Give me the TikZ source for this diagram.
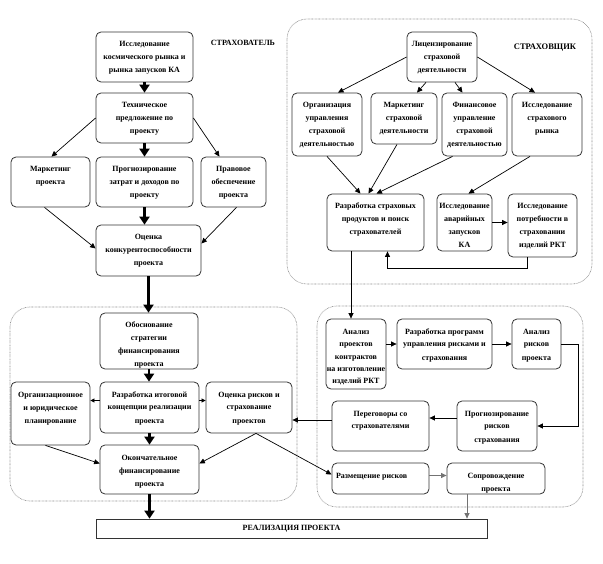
\documentclass[tikz,border=0pt]{standalone}
\usepackage{fontspec}
\setmainfont{Liberation Serif}
\usetikzlibrary{arrows.meta,calc}
\tikzset{
  box/.style={draw=black!80, line width=0.8pt, rounded corners=5pt, fill=white, inner sep=0pt,
    font=\bfseries\fontsize{8}{13}\selectfont},
  realbox/.style={draw=black!80, line width=0.8pt, fill=white, inner sep=0pt,
    font=\bfseries\fontsize{8}{10}\selectfont},
  grp/.style={draw=black!45, line width=0.6pt, dash pattern=on 0.7pt off 0.7pt, rounded corners=20pt},
  smallarr/.style={draw=black, line width=0.7pt, -{Triangle[width=5pt,length=5.5pt]}},
  tinyarr/.style={draw=black, line width=0.7pt, -{Triangle[width=4pt,length=4pt]}},
  bigarr/.style={draw=black, line width=2.2pt, -{Triangle[width=10pt,length=8pt]}},
  greyarr/.style={draw=black!55, line width=0.9pt, -{Triangle[width=5pt,length=5.5pt]}},
  lbl/.style={inner sep=0pt, font=\bfseries\fontsize{8}{10}\selectfont},
}
\newcommand{\bx}[7][\centering]{%
  \node[box] (#2) at ({(#3+#5)/2},{(#4+#6)/2})
   {\parbox[c][\dimexpr #6pt-#4pt\relax][t]{\dimexpr #5pt-#3pt\relax}{#1\rule{0pt}{15pt}#7\par}};}
\begin{document}
\begin{tikzpicture}[x=1pt,y=-1pt]
\useasboundingbox (0,0) rectangle (603,564);
% groups
\draw[grp] (287,19) rectangle (592,284);
\draw[grp] (10,307) rectangle (297,501);
\draw[grp] (317,306) rectangle (583,507);
% labels
\node[lbl] (lstr1) at (243,43) {СТРАХОВАТЕЛЬ};
\node[lbl, font=\bfseries\fontsize{8.5}{10}\selectfont] (lstr2) at (545,48) {СТРАХОВЩИК};
% left boxes
\bx{B1}{96}{32}{193}{82}{Исследование\\космического рынка и\\рынка запусков КА}
\bx{B2}{96}{93}{193}{143}{Техническое\\предложение по\\проекту}
\bx{B3}{11}{157}{90}{207}{Маркетинг\\проекта}
\bx{B4}{96}{157}{193}{207}{Прогнозирование\\затрат и доходов по\\проекту}
\bx{B5}{201}{157}{266}{207}{Правовое\\обеспечение\\проекта}
\bx{B6}{96}{225}{201}{276}{Оценка\\конкурентоспособности\\проекта}
\bx{B7}{100}{313}{198}{369}{Обоснование\\стратегии\\финансирования\\проекта}
\bx{B8}{100}{382}{199}{433}{Разработка итоговой\\концепции реализации\\проекта}
\bx{B9}{11}{382}{90}{445}{Организационное\\и юридическое\\планирование}
\bx{B10}{206}{382}{292}{433}{Оценка рисков и\\страхование\\проектов}
\bx{B11}{100}{445}{199}{494}{Окончательное\\финансирование\\проекта}
% right top boxes
\bx{R1}{407}{32}{477}{82}{Лицензирование\\страховой\\деятельности}
\bx{R2}{292}{93}{362}{156}{Организация\\управления\\страховой\\деятельностью}
\bx{R3}{371}{93}{437}{144}{Маркетинг\\страховой\\деятельности}
\bx{R4}{442}{93}{507}{156}{Финансовое\\управление\\страховой\\деятельностью}
\bx{R5}{512}{93}{582}{156}{Исследование\\страхового\\рынка}
\bx{R6}{327}{194}{424}{251}{Разработка страховых\\продуктов и поиск\\страхователей}
\bx{R7}{437}{194}{492}{251}{Исследование\\аварийных\\запусков\\КА}
\bx{R8}{508}{194}{577}{257}{Исследование\\потребности в\\страховании\\изделий РКТ}
% right bottom boxes
\bx[\centering\fontsize{8}{12.5}\selectfont]{A1}{326}{319}{386}{389}{Анализ\\проектов\\контрактов\\\makebox[\linewidth]{на изготовление}\\изделий РКТ}
\bx{A2}{397}{319}{492}{369}{Разработка программ\\управления рисками и\\страхования}
\bx{A3}{512}{319}{561}{369}{Анализ\\рисков\\проекта}
\bx{A4}{457}{401}{537}{451}{Прогнозирование\\рисков\\страхования}
\bx{A5}{332}{401}{429}{451}{Переговоры со\\страхователями}
\bx[\raggedright\leavevmode\hspace*{4pt}]{R9}{332}{463}{429}{494}{Размещение рисков}
\bx{R10}{447}{463}{545}{494}{Сопровождение\\проекта}
\node[realbox, minimum width=391pt, minimum height=19pt] (REAL) at (291.5,528.5) {РЕАЛИЗАЦИЯ ПРОЕКТА};
% left arrows
\draw[bigarr] (B1.south) -- (B2.north);
\draw[smallarr] (B2.west) -- ($(B3.north)+(1,0)$);
\draw[bigarr] (B2.south) -- (B4.north);
\draw[smallarr] (B2.east) -- ($(B5.north)+(-14,0)$);
\draw[smallarr] ($(B3.south)+(-6,0)$) -- ($(B6.west)+(0,-2)$);
\draw[bigarr] (B4.south) -- (B4.south |- B6.north);
\draw[smallarr] ($(B5.south)+(3,0)$) -- ($(B6.east)+(0,-7)$);
\draw[bigarr] (B6.south) -- (B6.south |- B7.north);
\draw[bigarr] (B7.south) -- (B7.south |- B8.north);
\coordinate (b8l) at ($(B8.west)+(0,-7)$);
\coordinate (b8r) at ($(B8.east)+(0,-7)$);
\draw[tinyarr] (b8l) -- (b8l -| B9.east);
\draw[tinyarr] (b8r) -- (b8r -| B10.west);
\draw[bigarr] (B8.south) -- (B8.south |- B11.north);
\draw[smallarr] ($(B9.south)+(-5,0)$) -- ($(B11.west)+(0,-6)$);
\draw[smallarr] ($(B10.south)+(7,0)$) -- ($(B11.east)+(0,-6)$);
\draw[smallarr] ($(B10.south)+(7,0)$) -- ($(R9.west)+(0,-4)$);
\draw[bigarr] (B11.south) -- (B11.south |- REAL.north);
% right top arrows
\draw[smallarr] (R1.west) -- ($(R2.north)+(11,0)$);
\draw[smallarr] ($(R1.south)+(-16,0)$) -- ($(R3.north)+(13,0)$);
\draw[smallarr] ($(R1.south)+(13,0)$) -- ($(R4.north)+(-12,0)$);
\draw[smallarr] (R1.east) -- ($(R5.north)+(-12,0)$);
\draw[smallarr] (R2.south) -- ($(R6.north)+(-15,0)$);
\draw[smallarr] ($(R3.south)+(-7,0)$) -- ($(R6.north)+(-7,0)$);
\draw[smallarr] ($(R4.south)+(-22,0)$) -- ($(R6.north)+(1,0)$);
\draw[smallarr] ($(R5.south)+(-17,0)$) -- ($(R7.north)+(4,0)$);
\draw[smallarr] (R7.east) -- (R7.east -| R8.west);
\draw[smallarr] ($(R8.south)+(-15,0)$) -- ++(0,11) -| ($(R6.south)+(12,0)$);
\coordinate (r6d) at ($(R6.south)+(-24.5,0)$);
\draw[smallarr] (r6d) -- (r6d |- A1.north);
% right bottom arrows
\draw[smallarr] (A2.west -| A1.east) -- (A2.west);
\draw[smallarr] (A2.east) -- (A3.west);
\draw[smallarr] (A3.east) -- ++(17,0) |- (A4.east);
\coordinate (a4l) at ($(A4.west)+(0,-8)$);
\draw[smallarr] (a4l) -- (a4l -| A5.east);
\coordinate (a5l) at ($(A5.west)+(0,-6)$);
\draw[smallarr] (a5l) -- (a5l -| B10.east);
\coordinate (r9r) at ($(R9.east)+(0,-3)$);
\draw[greyarr] (r9r) -- (r9r -| R10.west);
\coordinate (r10b) at ($(R10.south)+(-29,0)$);
\draw[greyarr] (r10b) -- (r10b |- REAL.north);
\end{tikzpicture}
\end{document}
